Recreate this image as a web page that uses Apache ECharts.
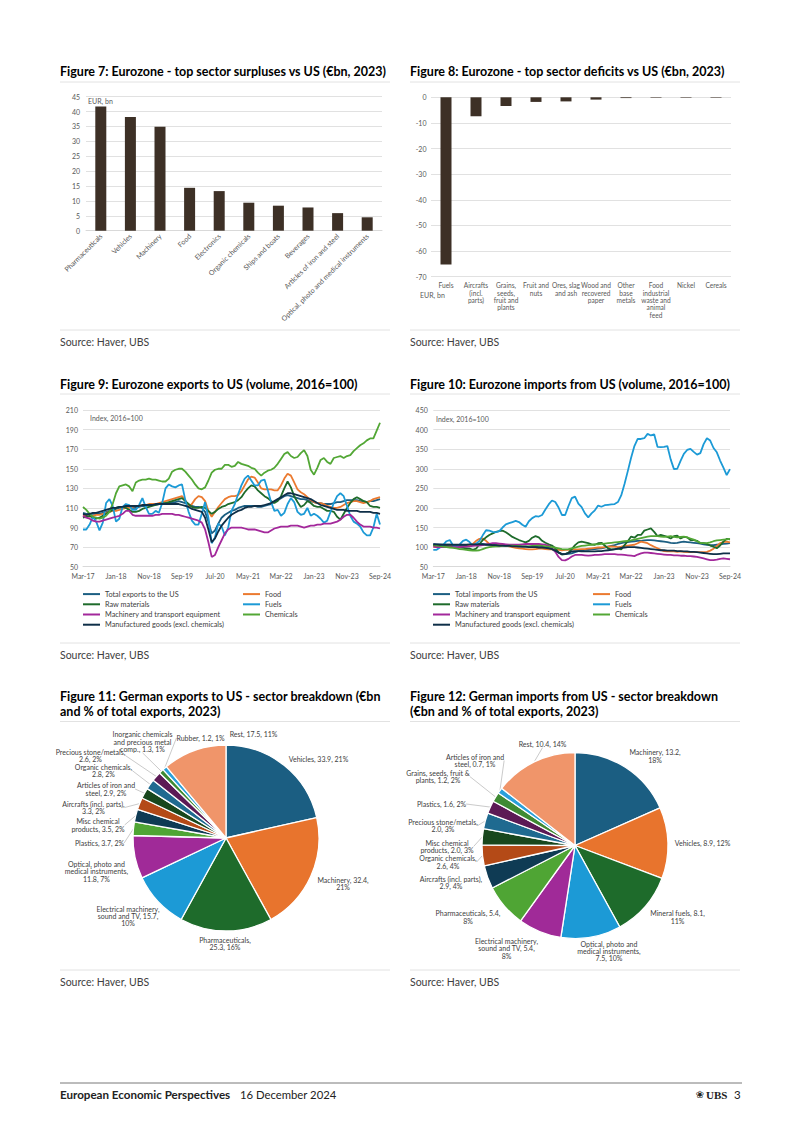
<!DOCTYPE html>
<html>
<head>
<meta charset="utf-8">
<script src="https://cdn.jsdelivr.net/npm/echarts@6/dist/echarts.min.js"></script>
<style>
html,body{margin:0;padding:0;background:#fff;}
#c{width:802px;height:1134px;}
</style>
</head>
<body>
<div id="c"></div>
<script>
// ---------- DATA ----------
const surplusCats = ['Pharmaceuticals','Vehicles','Machinery','Food','Electronics','Organic chemicals','Ships and boats','Beverages','Articles of iron and steel','Optical, photo and medical instruments'];
const surplusVals = [41.7, 38.2, 34.9, 14.4, 13.3, 9.4, 8.4, 7.8, 5.9, 4.5];

const deficitCats = ['Fuels','Aircrafts\n(incl.\nparts)','Grains,\nseeds,\nfruit and\nplants','Fruit and\nnuts','Ores, slag\nand ash','Wood and\nrecovered\npaper','Other\nbase\nmetals','Food\nindustrial\nwaste and\nanimal\nfeed','Nickel','Cereals'];
const deficitVals = [-65.2, -7.4, -3.4, -1.8, -1.6, -0.9, -0.3, -0.2, -0.2, -0.2];

const months = ['Mar-17','Apr-17','May-17','Jun-17','Jul-17','Aug-17','Sep-17','Oct-17','Nov-17','Dec-17',
'Jan-18','Feb-18','Mar-18','Apr-18','May-18','Jun-18','Jul-18','Aug-18','Sep-18','Oct-18','Nov-18','Dec-18',
'Jan-19','Feb-19','Mar-19','Apr-19','May-19','Jun-19','Jul-19','Aug-19','Sep-19','Oct-19','Nov-19','Dec-19',
'Jan-20','Feb-20','Mar-20','Apr-20','May-20','Jun-20','Jul-20','Aug-20','Sep-20','Oct-20','Nov-20','Dec-20',
'Jan-21','Feb-21','Mar-21','Apr-21','May-21','Jun-21','Jul-21','Aug-21','Sep-21','Oct-21','Nov-21','Dec-21',
'Jan-22','Feb-22','Mar-22','Apr-22','May-22','Jun-22','Jul-22','Aug-22','Sep-22','Oct-22','Nov-22','Dec-22',
'Jan-23','Feb-23','Mar-23','Apr-23','May-23','Jun-23','Jul-23','Aug-23','Sep-23','Oct-23','Nov-23','Dec-23',
'Jan-24','Feb-24','Mar-24','Apr-24','May-24','Jun-24','Jul-24','Aug-24','Sep-24'];

// Figure 9: exports to US (index, 2016=100)
const exTotal = [105,104,104,104,104,104,105,106,107,108, 109,110,110,111,111,110,110,111,112,112, 113,113,113,114,114,115,115,116,116,117, 116,115,113,112,111,111,110,106,96,84, 87,94,100,103,105,107,108,110,111,112, 112,112,112,111,111,112,113,114,116,118, 120,122,123,122,121,120,119,119,118,117, 116,115,115,114,114,114,115,116,116,117, 118,118,118,118,117,117,116,117,117,118, 119];
const exFood = [103,102,101,102,103,103,104,105,106,107, 107,108,109,110,110,111,112,112,113,113, 114,114,114,115,116,117,118,119,120,121, 122,118,111,114,119,122,121,117,107,101, 106,111,115,119,121,122,122,123,127,133, 139,142,141,136,130,129,129,129,128,128, 133,140,145,143,136,129,126,124,121,118, 116,115,115,114,112,111,110,110,111,113, 115,116,117,117,116,115,116,117,119,120, 121];
const exRaw = [100,101,102,100,99,100,102,104,106,108, 110,111,111,110,108,106,106,107,109,110, 111,112,113,114,115,115,116,117,118,119, 120,117,114,111,110,110,111,110,107,104, 106,109,111,112,114,115,116,118,121,126, 130,133,132,128,125,122,120,117,115,117, 122,130,137,131,122,116,111,113,117,115, 112,111,111,109,107,107,106,101,98,104, 110,115,119,121,119,117,116,112,111,111, 110];
const exFuels = [88,88,93,101,96,87,95,115,119,112, 96,99,111,114,113,108,108,113,120,111, 104,104,107,105,115,130,134,132,131,133, 134,118,106,97,93,93,104,116,100,74, 80,94,91,82,90,107,114,124,133,140, 143,138,133,133,138,139,128,116,107,108, 102,105,114,120,116,106,103,104,110,102, 104,102,99,95,97,106,115,122,125,122, 112,102,96,94,91,85,82,82,90,104, 93];
const exMach = [102,100,99,97,96,96,97,98,99,100, 101,102,104,107,107,103,102,102,102,102, 102,102,103,103,104,104,104,104,103,103, 102,101,100,99,98,97,95,88,75,60, 62,70,77,84,88,90,90,90,90,89, 88,88,88,87,86,85,85,87,89,90, 91,91,91,92,92,92,91,90,91,92, 92,93,93,94,94,94,95,96,98,101, 103,103,100,96,93,91,91,91,90,90, 89];
const exChem = [111,108,104,101,100,99,100,102,106,114, 125,132,133,134,132,127,136,138,139,139, 140,139,139,138,137,137,140,147,149,150, 150,147,143,139,134,130,129,131,138,146, 149,150,150,154,154,152,153,157,155,154, 153,151,150,146,143,146,148,149,151,155, 160,165,167,163,161,162,166,169,163,149, 144,151,159,161,157,155,161,162,163,161, 163,164,168,171,174,176,179,181,181,189, 197];
const exManu = [104,103,104,105,105,106,107,108,109,110, 110,111,111,112,112,112,112,112,113,113, 113,113,114,114,114,114,114,114,114,114, 113,112,111,109,108,107,106,100,88,75, 79,86,92,96,100,103,105,107,108,110, 111,111,112,112,112,113,114,115,117,119, 121,123,125,125,124,123,122,121,120,119, 117,115,113,112,111,110,109,108,108,108, 107,107,107,107,106,106,106,106,105,105, 104];

// Figure 10: imports from US (index, 2016=100)
const imTotal = [108,107,107,106,106,106,105,105,105,105, 105,105,106,107,108,108,107,106,106,105, 105,104,104,103,103,102,102,101,101,101, 101,101,100,100,99,98,95,90,86,83, 82,83,84,87,90,92,93,93,94,95, 96,97,99,101,103,105,108,110,112,113, 114,115,116,116,117,118,118,117,116,115, 114,113,111,110,111,113,114,113,112,111, 110,109,107,106,105,105,106,107,108,109, 110];
const imFood = [101,100,100,101,102,103,103,102,101,101, 102,104,108,116,121,122,116,108,104,104, 105,105,104,102,100,98,97,96,95,94, 94,95,96,96,95,94,94,93,93,92, 93,93,94,94,94,95,95,96,97,98, 99,99,100,101,102,101,100,101,103,104, 105,106,110,114,112,110,105,101,97,93, 90,89,90,89,88,89,88,87,88,87, 87,87,87,88,91,96,103,110,113,114, 112];
const imRaw = [105,104,103,102,102,101,100,100,99,98, 97,96,93,96,108,118,125,131,135,139, 141,142,138,132,126,122,118,115,112,116, 124,128,125,116,111,107,104,97,87,81, 82,86,95,105,112,114,112,110,107,106, 110,111,104,97,94,95,96,94,105,115, 127,124,131,131,142,145,148,139,128,131, 129,126,122,128,129,122,126,125,118,118, 116,110,110,108,104,101,97,104,114,121, 120];
const imFuels = [93,93,99,106,115,118,104,101,107,116, 119,113,104,109,116,130,143,142,139,138, 141,150,158,161,164,167,164,157,152,166, 174,179,178,182,196,209,219,215,201,182, 182,205,225,229,211,202,186,176,186,194, 206,203,207,208,209,210,215,232,261,294, 328,358,376,376,378,389,385,388,356,355, 356,358,324,299,300,320,338,348,351,343, 336,340,363,378,372,353,342,321,303,284, 299];
const imMach = [101,100,100,100,100,100,100,100,100,101, 101,102,103,104,104,105,107,108,110,110, 109,108,107,106,106,106,106,107,108,108, 108,108,108,107,106,104,97,88,75,67, 66,70,76,80,80,80,79,78,79,80, 80,81,82,82,82,82,81,81,80,79, 78,77,81,84,86,86,85,84,83,82, 81,80,80,79,79,78,78,77,77,76, 75,73,71,69,67,67,68,70,71,70, 69];
const imChem = [105,104,103,101,100,99,98,97,95,94, 93,92,91,91,92,95,98,100,101,102, 102,103,103,104,104,103,103,102,102,102, 103,104,104,103,102,101,100,99,97,95, 94,95,97,99,101,103,104,105,106,107, 107,108,109,110,111,112,113,114,115,116, 117,119,121,123,125,127,128,128,128,127, 126,127,128,126,125,126,127,125,122,119, 115,111,110,110,112,115,117,118,119,120, 121];
const imManu = [107,107,106,106,106,106,106,106,106,106, 106,107,107,107,107,107,106,106,105,105, 104,104,103,103,102,102,101,101,101,100, 100,100,99,99,98,97,95,91,86,82, 82,85,89,90,90,89,89,89,89,89, 90,90,91,92,93,94,96,98,99,100, 100,100,99,98,97,96,95,94,93,92, 92,91,91,91,90,90,89,89,88,88, 87,86,85,84,83,82,82,83,84,84, 84];

// Figure 11: German exports to US (EUR bn, 2023)
const pie11Names = ['Vehicles','Machinery','Pharmaceuticals','Electrical machinery, sound and TV','Optical, photo and medical instruments','Plastics','Misc chemical products','Aircrafts (incl. parts)','Articles of iron and steel','Organic chemicals','Precious stone/metals','Inorganic chemicals and precious metal comp.','Rubber','Rest'];
const pie11Vals = [33.9, 32.4, 25.3, 15.7, 11.8, 3.7, 3.5, 3.3, 2.9, 2.8, 2.6, 1.3, 1.2, 17.5];
const pie11Labels = ['Vehicles, 33.9, 21%','Machinery, 32.4,\n21%','Pharmaceuticals,\n25.3, 16%','Electrical machinery,\nsound and TV, 15.7,\n10%','Optical, photo and\nmedical instruments,\n11.8, 7%','Plastics, 3.7, 2%','Misc chemical\nproducts, 3.5, 2%','Aircrafts (incl. parts),\n3.3, 2%','Articles of iron and\nsteel, 2.9, 2%','Organic chemicals,\n2.8, 2%','Precious stone/metals,\n2.6, 2%','Inorganic chemicals\nand precious metal\ncomp., 1.3, 1%','Rubber, 1.2, 1%','Rest, 17.5, 11%'];

// Figure 12: German imports from US (EUR bn, 2023)
const pie12Names = ['Machinery','Vehicles','Mineral fuels','Optical, photo and medical instruments','Electrical machinery, sound and TV','Pharmaceuticals','Aircrafts (incl. parts)','Organic chemicals','Misc chemical products','Precious stone/metals','Plastics','Grains, seeds, fruit & plants','Articles of iron and steel','Rest'];
const pie12Vals = [13.2, 8.9, 8.1, 7.5, 5.4, 5.4, 2.9, 2.6, 2.0, 2.0, 1.6, 1.2, 0.7, 10.4];
const pie12Labels = ['Machinery, 13.2,\n18%','Vehicles, 8.9, 12%','Mineral fuels, 8.1,\n11%','Optical, photo and\nmedical instruments,\n7.5, 10%','Electrical machinery,\nsound and TV, 5.4,\n8%','Pharmaceuticals, 5.4,\n8%','Aircrafts (incl. parts),\n2.9, 4%','Organic chemicals,\n2.6, 4%','Misc chemical\nproducts, 2.0, 3%','Precious stone/metals,\n2.0, 3%','Plastics, 1.6, 2%','Grains, seeds, fruit &\nplants, 1.2, 2%','Articles of iron and\nsteel, 0.7, 1%','Rest, 10.4, 14%'];

// ---------- STYLE / LAYOUT ----------
const FONT = 'Lato, "Open Sans", sans-serif';
const pieColors = ['#1b5e82','#e8742d','#1e6b2b','#1c9ad6','#a02a98','#4fa534','#0f3b54','#b44a17','#18471d','#1f6a90','#5c1a55','#3f8a33','#2aa0da','#f0956a'];
const lineColors = {total:'#1b5e82', food:'#eb7a30', raw:'#1e6b2b', fuels:'#1c9ad6', mach:'#a3289b', chem:'#52a735', manu:'#0e2f48'};
const barColor = '#3d3026';
const gridColor = '#d9d9d9';
const axisTxt = '#595959';

const pie11LabelPos = [[318.5,758.7],[343,883.5],[225,943.5],[128,916],[96.5,871.3],[99.5,843],[98,825],[93.5,807.5],[106,789],[103.5,770.5],[90.5,755.5],[142.5,741.7],[200.5,738],[253.5,734]];
const pie12LabelPos = [[655,756],[702.5,843.3],[677.5,917],[609,951],[506.5,948.3],[468,917],[451,882.5],[448,862],[447,846.5],[443,825.5],[441.5,804],[438,776.5],[475,760.5],[542.5,744]];
const pie11Leader = [0,0,0,0,0,1,1,1,1,1,1,1,1,0];
const pie12Leader = [0,0,0,0,0,0,0,1,1,1,1,1,1,1];

function txt(x, y, text, font, color, align) {
  return {type:'text', x:x, y:y, silent:true, z:100,
    style:{text:text, font:font, fill:color || '#000', align:align || 'left', verticalAlign:'middle'}};
}
function hline(x1, x2, y, color, w) {
  return {type:'line', silent:true, z:100, shape:{x1:x1, y1:y, x2:x2, y2:y}, style:{stroke:color, lineWidth:w}};
}
const TITLE_FONT = 'bold 12.5px ' + FONT;
const SRC_FONT = '10.5px ' + FONT;
const sepCol = '#dadada';

const graphics = [
  txt(60, 71, 'Figure 7: Eurozone - top sector surpluses vs US (€bn, 2023)', TITLE_FONT),
  txt(410, 71, 'Figure 8: Eurozone - top sector deficits vs US (€bn, 2023)', TITLE_FONT),
  txt(60, 384.5, 'Figure 9: Eurozone exports to US (volume, 2016=100)', TITLE_FONT),
  txt(410, 384.5, 'Figure 10: Eurozone imports from US (volume, 2016=100)', TITLE_FONT),
  txt(60, 696.5, 'Figure 11: German exports to US - sector breakdown (€bn', TITLE_FONT),
  txt(60, 711, 'and % of total exports, 2023)', TITLE_FONT),
  txt(410, 696.5, 'Figure 12: German imports from US - sector breakdown', TITLE_FONT),
  txt(410, 711, '(€bn and % of total exports, 2023)', TITLE_FONT),
  hline(60, 390, 82, sepCol, 0.8), hline(410, 740, 82, sepCol, 0.8),
  hline(60, 390, 394, sepCol, 0.8), hline(410, 740, 394, sepCol, 0.8),
  hline(60, 390, 721.5, sepCol, 0.8), hline(410, 740, 721.5, sepCol, 0.8),
  hline(60, 390, 330, sepCol, 0.8), hline(410, 740, 330, sepCol, 0.8),
  hline(60, 390, 643, sepCol, 0.8), hline(410, 740, 643, sepCol, 0.8),
  hline(60, 390, 970, sepCol, 0.8), hline(410, 740, 970, sepCol, 0.8),
  txt(60, 341.5, 'Source: Haver, UBS', SRC_FONT, '#404040'),
  txt(410, 341.5, 'Source: Haver, UBS', SRC_FONT, '#404040'),
  txt(60, 654.5, 'Source: Haver, UBS', SRC_FONT, '#404040'),
  txt(410, 654.5, 'Source: Haver, UBS', SRC_FONT, '#404040'),
  txt(60, 981.5, 'Source: Haver, UBS', SRC_FONT, '#404040'),
  txt(410, 981.5, 'Source: Haver, UBS', SRC_FONT, '#404040'),
  txt(88, 101, 'EUR, bn', '7px ' + FONT, '#595959'),
  txt(420, 294.5, 'EUR, bn', '7px ' + FONT, '#595959'),
  txt(90, 417.5, 'Index, 2016=100', '7px ' + FONT, '#595959'),
  txt(436, 418.5, 'Index, 2016=100', '7px ' + FONT, '#595959'),
  hline(60, 742, 1083, '#555', 0.8),
  txt(60, 1094, 'European Economic Perspectives', 'bold 11.6px ' + FONT, '#222'),
  txt(240, 1094, '16 December 2024', '11.3px ' + FONT, '#222'),
  txt(700, 1094, '\u2740', '10px "DejaVu Sans", sans-serif', '#222', 'center'),
  txt(706, 1094.5, 'UBS', 'bold 11px "Liberation Serif", serif', '#222'),
  txt(734, 1094, '3', '11.5px ' + FONT, '#222')
];

function lineSeries(name, data, color, idx) {
  return {type:'line', name:name, data:data, xAxisIndex:idx, yAxisIndex:idx, showSymbol:false, symbol:'none',
    lineStyle:{color:color, width:1.8}, itemStyle:{color:color}, emphasis:{disabled:true}};
}
function legend(left, names) {
  return {left:left, top:589, orient:'vertical', itemWidth:17, itemHeight:2, itemGap:0, icon:'rect',
    selectedMode:false, padding:0, textStyle:{fontSize:7.3, color:'#404040', lineHeight:10.2, fontFamily:FONT}, data:names};
}
function catLineAxis(gi) {
  return {gridIndex:gi, type:'category', data:months, boundaryGap:false,
    axisTick:{show:false}, axisLine:{lineStyle:{color:gridColor}},
    axisLabel:{interval:9, fontSize:7, color:axisTxt, margin:6, fontFamily:FONT}, splitLine:{show:false}};
}
function valAxis(gi, min, max, interval, margin) {
  return {gridIndex:gi, type:'value', min:min, max:max, interval:interval,
    axisLine:{show:false}, axisTick:{show:false},
    axisLabel:{fontSize:7, color:axisTxt, margin:margin, fontFamily:FONT},
    splitLine:{lineStyle:{color:gridColor, width:0.8}}};
}
function pieSeries(names, vals, labels, pos, leader, center) {
  return {type:'pie', center:center, radius:93, startAngle:90, clockwise:true, avoidLabelOverlap:false,
    emphasis:{disabled:true},
    itemStyle:{borderColor:'#fff', borderWidth:1.3},
    label:{show:true, position:'outside', fontSize:7, color:'#404040', lineHeight:7.4, fontFamily:FONT,
      formatter:function(p){ return labels[p.dataIndex]; }},
    labelLine:{show:true, length:0, length2:0, lineStyle:{color:'#a6a6a6', width:0.6}},
    labelLayout:function(p){ const q = pos[p.dataIndex]; return {x:q[0], y:q[1], align:'center', verticalAlign:'middle'}; },
    data:names.map(function(n, i){ return {name:n, value:vals[i], itemStyle:{color:pieColors[i]}, labelLine:{show:!!leader[i]}}; })
  };
}

const option = {
  animation:false,
  textStyle:{fontFamily:FONT},
  graphic:graphics,
  grid:[
    {left:86, top:96.7, width:296, height:134},
    {left:431, top:97.3, width:300, height:179.4},
    {left:83, top:410, width:297, height:156.7},
    {left:433.3, top:410, width:296.7, height:156.7}
  ],
  xAxis:[
    {gridIndex:0, type:'category', data:surplusCats, axisTick:{show:false}, axisLine:{lineStyle:{color:gridColor}},
      axisLabel:{rotate:45, interval:0, fontSize:7, color:axisTxt, margin:4, fontFamily:FONT}},
    {gridIndex:1, type:'category', data:deficitCats, position:'bottom', axisTick:{show:false},
      axisLine:{show:false, onZero:false},
      axisLabel:{interval:0, fontSize:6.6, lineHeight:7.3, color:axisTxt, margin:5, fontFamily:FONT}},
    catLineAxis(2),
    catLineAxis(3)
  ],
  yAxis:[
    valAxis(0, 0, 45, 5, 6),
    valAxis(1, -70, 0, 10, 4.5),
    valAxis(2, 50, 210, 20, 5),
    valAxis(3, 50, 450, 50, 5.5)
  ],
  legend:[
    legend(83, ['Total exports to the US','Raw materials','Machinery and transport equipment','Manufactured goods (excl. chemicals)']),
    legend(243, ['Food','Fuels','Chemicals']),
    legend(433, ['Total imports from the US','Raw materials','Machinery and transport equipment','Manufactured goods (excl. chemicals)']),
    legend(593, ['Food','Fuels','Chemicals'])
  ],
  series:[
    {type:'bar', data:surplusVals, xAxisIndex:0, yAxisIndex:0, barWidth:11, itemStyle:{color:barColor}, emphasis:{disabled:true}},
    {type:'bar', data:deficitVals, xAxisIndex:1, yAxisIndex:1, barWidth:11, itemStyle:{color:barColor}, emphasis:{disabled:true}},
    lineSeries('Total exports to the US', exTotal, lineColors.total, 2),
    lineSeries('Food', exFood, lineColors.food, 2),
    lineSeries('Raw materials', exRaw, lineColors.raw, 2),
    lineSeries('Fuels', exFuels, lineColors.fuels, 2),
    lineSeries('Machinery and transport equipment', exMach, lineColors.mach, 2),
    lineSeries('Chemicals', exChem, lineColors.chem, 2),
    lineSeries('Manufactured goods (excl. chemicals)', exManu, lineColors.manu, 2),
    lineSeries('Total imports from the US', imTotal, lineColors.total, 3),
    lineSeries('Food', imFood, lineColors.food, 3),
    lineSeries('Raw materials', imRaw, lineColors.raw, 3),
    lineSeries('Fuels', imFuels, lineColors.fuels, 3),
    lineSeries('Machinery and transport equipment', imMach, lineColors.mach, 3),
    lineSeries('Chemicals', imChem, lineColors.chem, 3),
    lineSeries('Manufactured goods (excl. chemicals)', imManu, lineColors.manu, 3),
    pieSeries(pie11Names, pie11Vals, pie11Labels, pie11LabelPos, pie11Leader, [226, 838]),
    pieSeries(pie12Names, pie12Vals, pie12Labels, pie12LabelPos, pie12Leader, [575, 845.5])
  ]
};

const chart = echarts.init(document.getElementById('c'), null, {renderer:'svg', width:802, height:1134});
chart.setOption(option);
</script>
</body>
</html>
